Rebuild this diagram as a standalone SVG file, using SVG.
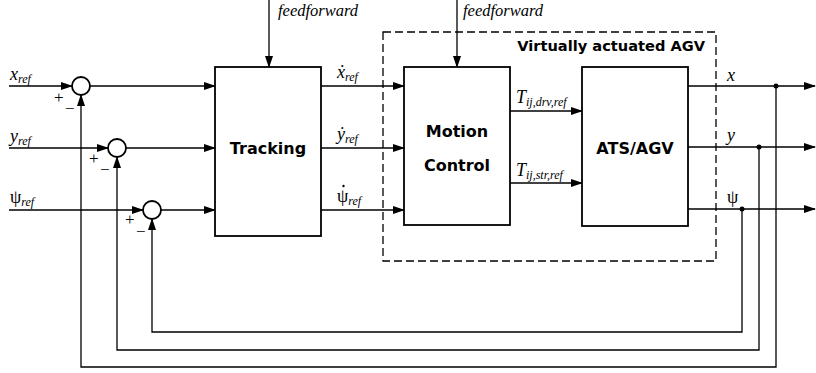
<svg xmlns="http://www.w3.org/2000/svg" width="816" height="373" viewBox="0 0 816 373">
<defs>
<marker id="ah" markerWidth="12" markerHeight="8" refX="11" refY="4" orient="auto" markerUnits="userSpaceOnUse">
<path d="M0,0 L12,4 L0,8 Z" fill="#000"/>
</marker>
<style>
.ar{fill:none;stroke:#000;stroke-width:1.3;marker-end:url(#ah)}
.box{fill:#fff;stroke:#000;stroke-width:1.8}
.sum{fill:#fff;stroke:#000;stroke-width:1.8}
.dash{fill:none;stroke:#000;stroke-width:1.3;stroke-dasharray:8 4}
.b{font-family:"DejaVu Sans",Verdana,sans-serif;font-weight:bold;font-size:16px;fill:#000}
.t{font-size:14.6px}
.m{font-family:"Liberation Serif","Times New Roman",serif;font-style:italic;font-size:18px;fill:#000}
.s{font-size:12px}
.up{font-style:normal}
.sg{font-family:"Liberation Serif","Times New Roman",serif;font-size:17px;fill:#000}
.ff{font-family:"Liberation Serif","Times New Roman",serif;font-style:italic;font-size:16.5px;fill:#000}
</style>
</defs>

<g id="virtual-agv">
<rect class="dash" x="383" y="32" width="333" height="229"/>
<text class="b t" x="705" y="51" text-anchor="end">Virtually actuated AGV</text>
</g>

<g id="connectors">
<line class="ar" x1="9" y1="86" x2="72" y2="86"/>
<line class="ar" x1="9" y1="148" x2="108" y2="148"/>
<line class="ar" x1="9" y1="210" x2="143" y2="210"/>
<line class="ar" x1="90" y1="86" x2="215" y2="86"/>
<line class="ar" x1="126" y1="148" x2="215" y2="148"/>
<line class="ar" x1="161" y1="210" x2="215" y2="210"/>
<line class="ar" x1="269" y1="0" x2="269" y2="67"/>
<line class="ar" x1="457" y1="0" x2="457" y2="67"/>
<line class="ar" x1="321" y1="86" x2="404" y2="86"/>
<line class="ar" x1="321" y1="148" x2="404" y2="148"/>
<line class="ar" x1="321" y1="210" x2="404" y2="210"/>
<line class="ar" x1="510" y1="111" x2="582" y2="111"/>
<line class="ar" x1="510" y1="183" x2="582" y2="183"/>
<line class="ar" x1="688" y1="86" x2="815" y2="86"/>
<line class="ar" x1="688" y1="147" x2="815" y2="147"/>
<line class="ar" x1="688" y1="209" x2="815" y2="209"/>
<polyline class="ar" points="776,86 776,367 81,367 81,95"/>
<polyline class="ar" points="759,147 759,350 117,350 117,157"/>
<polyline class="ar" points="742,209 742,332 152,332 152,219"/>
<circle cx="776" cy="86" r="2.5" fill="#000"/>
<circle cx="759" cy="147" r="2.5" fill="#000"/>
<circle cx="742" cy="209" r="2.5" fill="#000"/>
</g>

<g id="sum-x">
<circle class="sum" cx="81" cy="86" r="9"/>
<text class="sg" x="54" y="103">+</text>
<text class="sg" x="65" y="114">−</text>
</g>
<g id="sum-y">
<circle class="sum" cx="117" cy="148" r="9"/>
<text class="sg" x="89" y="164">+</text>
<text class="sg" x="100" y="175">−</text>
</g>
<g id="sum-psi">
<circle class="sum" cx="152" cy="210" r="9"/>
<text class="sg" x="125" y="225">+</text>
<text class="sg" x="136" y="237">−</text>
</g>

<g id="tracking">
<rect class="box" x="215" y="67" width="106" height="169"/>
<text class="b" x="268" y="154" text-anchor="middle">Tracking</text>
</g>
<g id="motion-control">
<rect class="box" x="404" y="67" width="106" height="158"/>
<text class="b" x="457" y="137" text-anchor="middle">Motion</text>
<text class="b" x="457" y="171" text-anchor="middle">Control</text>
</g>
<g id="ats-agv">
<rect class="box" x="582" y="67" width="106" height="159"/>
<text class="b" x="635" y="154" text-anchor="middle">ATS/AGV</text>
</g>

<g id="labels">
<text class="m" x="10" y="80">x<tspan class="s" dy="3">ref</tspan></text>
<text class="m" x="10" y="142">y<tspan class="s" dy="3">ref</tspan></text>
<text class="m" x="10" y="203"><tspan class="up">ψ</tspan><tspan class="s" dy="3">ref</tspan></text>
<text class="ff" x="278" y="16">feedforward</text>
<text class="ff" x="463" y="16">feedforward</text>
<text class="m" x="337" y="78">ẋ<tspan class="s" dy="3">ref</tspan></text>
<text class="m" x="337" y="140">ẏ<tspan class="s" dy="3">ref</tspan></text>
<text class="m" x="337" y="202"><tspan class="up">ψ</tspan><tspan class="s" dy="3">ref</tspan></text>
<circle cx="343.5" cy="186" r="1.2" fill="#000"/>
<text class="m" x="516" y="103">T<tspan class="s" dy="3">ij,drv,ref</tspan></text>
<text class="m" x="516" y="176">T<tspan class="s" dy="3">ij,str,ref</tspan></text>
<text class="m" x="727" y="81">x</text>
<text class="m" x="727" y="141">y</text>
<text class="m up" x="727" y="203">ψ</text>
</g>
</svg>
